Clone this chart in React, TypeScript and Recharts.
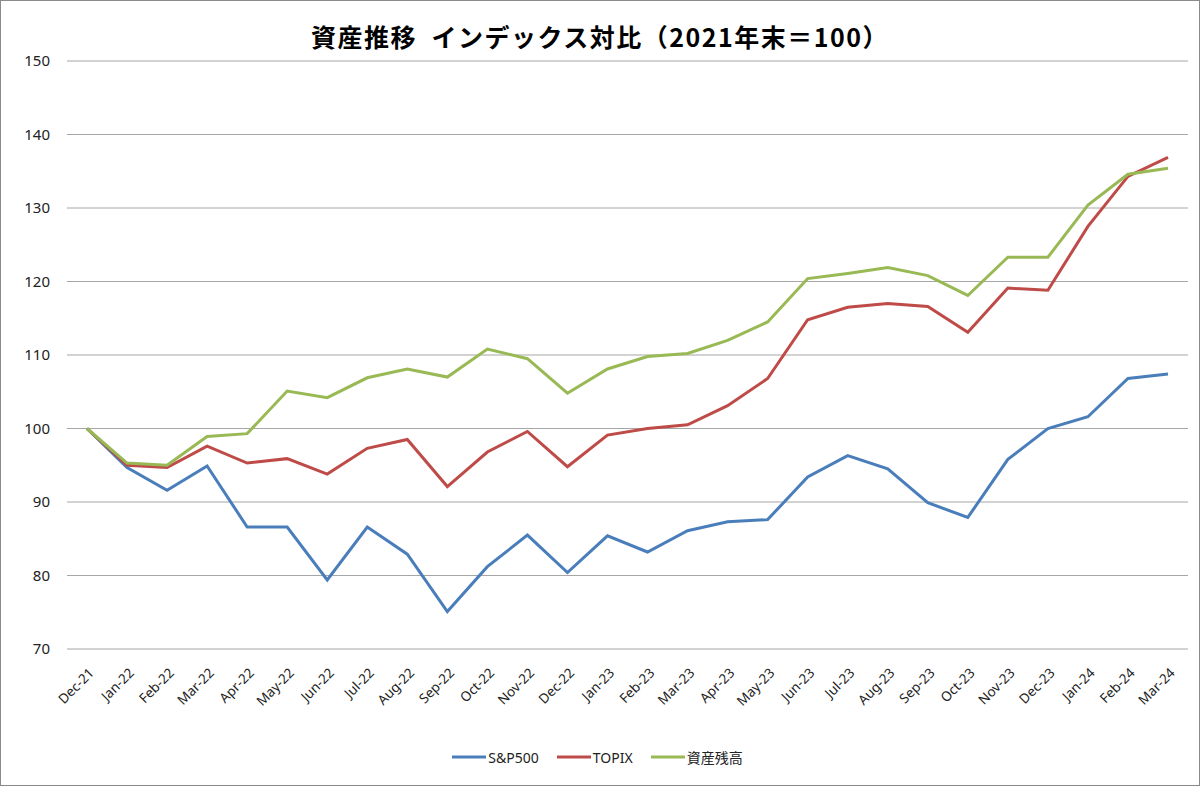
import React from 'react';
import { LineChart, Line, XAxis, YAxis, CartesianGrid, Legend } from 'recharts';

const months = ['Dec-21','Jan-22','Feb-22','Mar-22','Apr-22','May-22','Jun-22','Jul-22','Aug-22','Sep-22','Oct-22','Nov-22','Dec-22','Jan-23','Feb-23','Mar-23','Apr-23','May-23','Jun-23','Jul-23','Aug-23','Sep-23','Oct-23','Nov-23','Dec-23','Jan-24','Feb-24','Mar-24'];
const sp500 = [100,94.7,91.6,94.9,86.6,86.6,79.4,86.6,82.9,75.1,81.2,85.5,80.4,85.4,83.2,86.1,87.3,87.6,93.4,96.3,94.5,89.9,87.9,95.8,100.0,101.6,106.8,107.4];
const topix = [100,95.0,94.7,97.6,95.3,95.9,93.8,97.3,98.5,92.1,96.8,99.6,94.8,99.1,100.0,100.5,103.1,106.8,114.8,116.5,117.0,116.6,113.1,119.1,118.8,127.5,134.3,136.9];
const assets = [100,95.3,95.0,98.9,99.3,105.1,104.2,106.9,108.1,107.0,110.8,109.5,104.8,108.1,109.8,110.2,112.0,114.5,120.4,121.1,121.9,120.8,118.1,123.3,123.3,130.4,134.6,135.4];
const yTicks = [70,80,90,100,110,120,130,140,150];

const title = '資産推移  インデックス対比（2021年末＝100）';
const seriesNames = ['S&P500', 'TOPIX', '資産残高'];
const colors = ['#4a7ebb', '#be4b48', '#98b954'];

const data = months.map((m, i) => ({ month: m, sp: sp500[i], tp: topix[i], as: assets[i] }));

const FONT = '"Noto Sans", "Noto Sans CJK JP", sans-serif';

const XTick = (props: any) => {
  const { x, y, payload } = props;
  return (
    <g transform={`translate(${x + 5},${y + 10})`}>
      <text x={0} y={0} dy={4} textAnchor="end" transform="rotate(-45)" fill="#222" fontSize={13.5} fontFamily={FONT}>
        {payload.value}
      </text>
    </g>
  );
};

const renderLegend = () => (
  <div style={{ display: 'flex', justifyContent: 'center', alignItems: 'center', height: 30, fontFamily: FONT, fontSize: 14, color: '#222' }}>
    {seriesNames.map((n, i) => (
      <div key={n} style={{ display: 'flex', alignItems: 'center', margin: '0 9px' }}>
        <svg width={34} height={6} style={{ marginRight: 2 }}>
          <line x1={0} y1={3} x2={34} y2={3} stroke={colors[i]} strokeWidth={3} />
        </svg>
        <span>{n}</span>
      </div>
    ))}
  </div>
);

export default function App() {
  return (
    <div style={{ position: 'fixed', left: 0, top: 0, width: 1200, height: 786, background: '#fff' }}>
      <div style={{ position: 'absolute', left: 0, top: 0, width: 1200, height: 786, boxSizing: 'border-box', border: '1px solid #8a8a8a', pointerEvents: 'none', zIndex: 2 }} />
      <div style={{ position: 'absolute', left: 0, top: 18, width: 1200, textAlign: 'center', fontFamily: '"Noto Sans CJK JP", sans-serif', fontWeight: 700, fontSize: 25, lineHeight: '36px', color: '#000', letterSpacing: 1.5, whiteSpace: 'pre' }}>
        {title}
      </div>
      <LineChart width={1200} height={786} data={data} margin={{ top: 61, right: 12, left: 7, bottom: 14 }}>
        <CartesianGrid vertical={false} stroke="#a6a6a6" strokeWidth={1} />
        <XAxis dataKey="month" axisLine={false} tickLine={false} interval={0} height={93} padding={{ left: 20, right: 20 }} tick={<XTick />} tickMargin={6} />
        <YAxis domain={[70, 150]} ticks={yTicks} axisLine={false} tickLine={false} width={60} tickMargin={11} tick={{ fill: '#222', fontSize: 15, fontFamily: FONT }} />
        <Legend verticalAlign="bottom" content={renderLegend} />
        <Line dataKey="sp" name={seriesNames[0]} stroke={colors[0]} strokeWidth={3} dot={false} isAnimationActive={false} />
        <Line dataKey="tp" name={seriesNames[1]} stroke={colors[1]} strokeWidth={3} dot={false} isAnimationActive={false} />
        <Line dataKey="as" name={seriesNames[2]} stroke={colors[2]} strokeWidth={3} dot={false} isAnimationActive={false} />
      </LineChart>
    </div>
  );
}
